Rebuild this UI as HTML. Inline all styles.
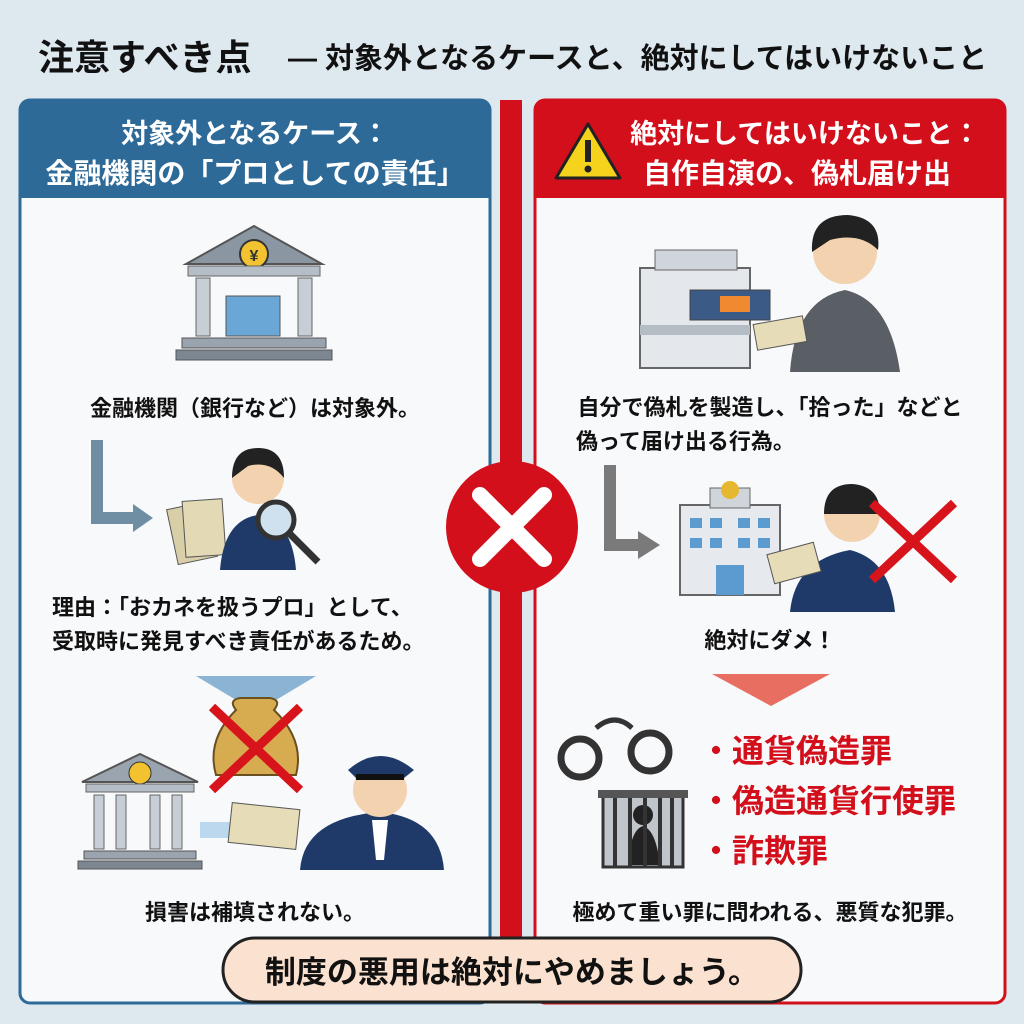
<!DOCTYPE html>
<html><head><meta charset="utf-8"><style>
html,body{margin:0;padding:0;width:1024px;height:1024px;overflow:hidden;background:#dde8ef}
svg{display:block}
text{font-family:"Liberation Sans","Noto Sans CJK JP",sans-serif;font-weight:bold}
</style></head><body>
<svg width="1024" height="1024" viewBox="0 0 1024 1024" xmlns="http://www.w3.org/2000/svg">
<rect width="1024" height="1024" fill="#dde8ef"/>
<text x="38" y="70" font-size="36" fill="#111">注意すべき点</text>
<text x="288" y="68" font-size="29" fill="#111">— 対象外となるケースと、絶対にしてはいけないこと</text>

<rect x="20" y="100" width="470" height="903" rx="10" fill="#f8f9fb" stroke="#2d6a98" stroke-width="3"/>
<path d="M20 110 a10 10 0 0 1 10 -10 h450 a10 10 0 0 1 10 10 v88 h-470z" fill="#2d6a98"/>
<text x="255" y="143" font-size="27" fill="#fff" text-anchor="middle">対象外となるケース：</text>
<text x="255" y="183" font-size="28" fill="#fff" text-anchor="middle">金融機関の「プロとしての責任」</text>

<rect x="535" y="100" width="470" height="903" rx="10" fill="#f8f9fb" stroke="#d20f1a" stroke-width="3"/>
<path d="M535 110 a10 10 0 0 1 10 -10 h450 a10 10 0 0 1 10 10 v88 h-470z" fill="#d20f1a"/>
<polygon points="588,124 620,178 556,178" fill="#f5d31c" stroke="#222" stroke-width="3" stroke-linejoin="round"/>
<rect x="585" y="140" width="6" height="22" fill="#222"/><circle cx="588" cy="169" r="3.5" fill="#222"/>
<text x="805" y="143" font-size="27" fill="#fff" text-anchor="middle">絶対にしてはいけないこと：</text>
<text x="797" y="183" font-size="28" fill="#fff" text-anchor="middle">自作自演の、偽札届け出</text>

<rect x="500" y="100" width="22" height="840" fill="#d20f1a"/>
<circle cx="512" cy="527" r="66" fill="#d20f1a"/>
<path d="M480 495 L544 559 M544 495 L480 559" stroke="#fff" stroke-width="16" stroke-linecap="round"/>

<polygon points="254,226 322,264 186,264" fill="#8a96a2" stroke="#555" stroke-width="2"/>
<circle cx="254" cy="254" r="14" fill="#f2c230" stroke="#333" stroke-width="2"/>
<text x="254" y="261" font-size="16" text-anchor="middle" fill="#333">¥</text>
<rect x="188" y="266" width="132" height="10" fill="#b5bec7" stroke="#666"/>
<rect x="196" y="278" width="14" height="58" fill="#c7ced5" stroke="#666"/>
<rect x="298" y="278" width="14" height="58" fill="#c7ced5" stroke="#666"/>
<rect x="226" y="296" width="54" height="40" fill="#6aa6d6" stroke="#555"/>
<rect x="182" y="338" width="144" height="10" fill="#9aa4ae" stroke="#555"/>
<rect x="176" y="350" width="156" height="10" fill="#7d8792" stroke="#555"/>
<text x="255" y="416" font-size="22" fill="#111" text-anchor="middle">金融機関（銀行など）は対象外。</text>

<path d="M97 440 V518 H135" fill="none" stroke="#6f8ea3" stroke-width="12"/>
<polygon points="133,504 153,518 133,532" fill="#6f8ea3"/>
<rect x="172" y="505" width="40" height="56" fill="#d8cfa8" stroke="#555" transform="rotate(-12 192 533)"/>
<rect x="184" y="500" width="40" height="56" fill="#e3dab5" stroke="#555" transform="rotate(-4 204 528)"/>
<path d="M220 570 Q224 520 258 515 Q292 520 296 570Z" fill="#1f3a68"/>
<circle cx="258" cy="478" r="26" fill="#f3d2b0"/>
<path d="M232 478 Q232 448 258 448 Q284 448 284 478 Q270 460 248 466Z" fill="#222"/>
<circle cx="276" cy="520" r="18" fill="#cfe0ee" stroke="#333" stroke-width="5"/>
<line x1="289" y1="533" x2="318" y2="562" stroke="#333" stroke-width="7"/>
<text x="52" y="615" font-size="22" fill="#111">理由：「おカネを扱うプロ」として、</text>
<text x="52" y="649" font-size="22" fill="#111">受取時に発見すべき責任があるため。</text>

<polygon points="196,676 316,676 256,712" fill="#8bb4d4"/>
<path d="M236 710 Q228 700 240 698 L270 698 Q282 700 274 710 Q305 740 296 775 H216 Q206 740 236 710Z" fill="#d7ab50" stroke="#6a5020" stroke-width="2"/>
<path d="M212 707 L300 790 M300 707 L212 790" stroke="#d7141c" stroke-width="9"/>
<polygon points="140,754 198,782 82,782" fill="#9aa4ae" stroke="#555" stroke-width="2"/>
<circle cx="140" cy="773" r="11" fill="#f2c230" stroke="#333"/>
<rect x="86" y="784" width="108" height="8" fill="#b5bec7" stroke="#666"/>
<rect x="94" y="795" width="10" height="54" fill="#c7ced5" stroke="#666"/>
<rect x="116" y="795" width="10" height="54" fill="#c7ced5" stroke="#666"/>
<rect x="150" y="795" width="10" height="54" fill="#c7ced5" stroke="#666"/>
<rect x="172" y="795" width="10" height="54" fill="#c7ced5" stroke="#666"/>
<rect x="84" y="851" width="112" height="8" fill="#9aa4ae" stroke="#555"/>
<rect x="78" y="861" width="124" height="8" fill="#7d8792" stroke="#555"/>
<rect x="200" y="822" width="30" height="16" fill="#bcd8ee"/>
<rect x="230" y="806" width="68" height="40" fill="#e6dcb8" stroke="#555" transform="rotate(6 264 826)"/>
<path d="M300 870 Q304 818 380 812 Q440 818 444 870Z" fill="#1f3a68"/>
<polygon points="372,820 388,820 384,860 376,860" fill="#fff"/>
<circle cx="380" cy="790" r="27" fill="#f3d2b0"/>
<path d="M348 770 Q380 742 414 770 L404 778 H356Z" fill="#1f3a68"/>
<rect x="356" y="774" width="48" height="6" fill="#111"/>
<text x="255" y="920" font-size="22" fill="#111" text-anchor="middle">損害は補填されない。</text>

<rect x="640" y="268" width="110" height="100" fill="#e4e8ec" stroke="#666" stroke-width="2"/>
<rect x="655" y="250" width="82" height="20" fill="#cfd5db" stroke="#666"/>
<rect x="690" y="290" width="80" height="30" fill="#3b5a86" stroke="#444"/>
<rect x="720" y="296" width="30" height="16" fill="#f08a30"/>
<rect x="640" y="325" width="110" height="10" fill="#b4bcc4"/>
<path d="M790 372 Q795 300 845 290 Q890 300 900 372Z" fill="#5a5f66"/>
<circle cx="845" cy="252" r="32" fill="#f3d2b0"/>
<path d="M812 252 Q810 215 848 215 Q882 218 878 250 Q860 232 830 240Z" fill="#222"/>
<rect x="755" y="320" width="50" height="26" fill="#e6dcb8" stroke="#555" transform="rotate(-10 780 333)"/>
<text x="770" y="415" font-size="22" fill="#111" text-anchor="middle">自分で偽札を製造し、「拾った」などと</text>
<text x="576" y="449" font-size="22" fill="#111">偽って届け出る行為。</text>

<path d="M610 465 V545 H640" fill="none" stroke="#7a7a7a" stroke-width="12"/>
<polygon points="638,531 660,545 638,559" fill="#7a7a7a"/>
<rect x="680" y="505" width="100" height="90" fill="#e6eaee" stroke="#666" stroke-width="2"/>
<rect x="710" y="488" width="40" height="20" fill="#cfd5db" stroke="#666"/>
<circle cx="730" cy="490" r="9" fill="#e6b830"/>
<g fill="#5c9bd0">
<rect x="690" y="518" width="12" height="10"/><rect x="710" y="518" width="12" height="10"/><rect x="738" y="518" width="12" height="10"/><rect x="758" y="518" width="12" height="10"/>
<rect x="690" y="538" width="12" height="10"/><rect x="710" y="538" width="12" height="10"/><rect x="738" y="538" width="12" height="10"/><rect x="758" y="538" width="12" height="10"/>
<rect x="716" y="565" width="28" height="30"/></g>
<path d="M790 612 Q795 560 850 550 Q890 560 895 612Z" fill="#1f3a68"/>
<circle cx="852" cy="514" r="28" fill="#f3d2b0"/>
<path d="M824 514 Q824 484 852 484 Q880 486 880 514Z" fill="#222"/>
<rect x="770" y="548" width="48" height="30" fill="#e6dcb8" stroke="#555" transform="rotate(-15 794 563)"/>
<path d="M872 503 L954 580 M954 503 L872 580" stroke="#d7141c" stroke-width="9"/>
<text x="770" y="648" font-size="22" fill="#111" text-anchor="middle">絶対にダメ！</text>

<polygon points="712,674 830,674 771,706" fill="#e96e62"/>
<circle cx="580" cy="758" r="19" fill="none" stroke="#333" stroke-width="7"/>
<circle cx="650" cy="752" r="19" fill="none" stroke="#333" stroke-width="7"/>
<path d="M596 728 Q615 712 632 728" fill="none" stroke="#333" stroke-width="5"/>
<rect x="603" y="795" width="80" height="72" fill="#bfc5cb" stroke="#333" stroke-width="3"/>
<path d="M628 865 Q630 830 643 826 Q656 830 660 865Z" fill="#222"/><circle cx="643" cy="815" r="10" fill="#222"/>
<g stroke="#333" stroke-width="4"><line x1="615" y1="797" x2="615" y2="866"/><line x1="630" y1="797" x2="630" y2="866"/><line x1="645" y1="797" x2="645" y2="866"/><line x1="660" y1="797" x2="660" y2="866"/><line x1="672" y1="797" x2="672" y2="866"/></g>
<rect x="598" y="790" width="90" height="8" fill="#555"/>
<text x="700" y="762" font-size="32" fill="#d20f1a">・通貨偽造罪</text>
<text x="700" y="812" font-size="32" fill="#d20f1a">・偽造通貨行使罪</text>
<text x="700" y="862" font-size="32" fill="#d20f1a">・詐欺罪</text>
<text x="770" y="920" font-size="22" fill="#111" text-anchor="middle">極めて重い罪に問われる、悪質な犯罪。</text>

<rect x="223" y="938" width="578" height="64" rx="32" fill="#fbe1cf" stroke="#222" stroke-width="3"/>
<text x="512" y="983" font-size="31" fill="#111" text-anchor="middle">制度の悪用は絶対にやめましょう。</text>
</svg>
</body></html>
